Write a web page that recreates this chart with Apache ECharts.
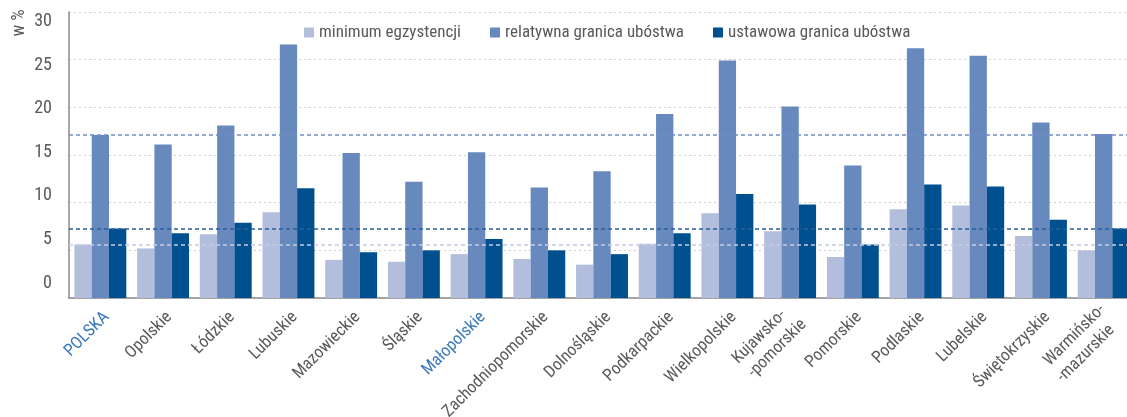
<!DOCTYPE html>
<html>
<head>
<meta charset="utf-8">
<script src="https://cdn.jsdelivr.net/npm/echarts@6/dist/echarts.min.js"></script>
<style>
  html, body { margin: 0; padding: 0; background: #fff; }
  #wykres { width: 1127px; height: 417px; }
</style>
</head>
<body>
<div id="wykres"></div>
<script>
// dane
var wojewodztwa = ['POLSKA', 'Opolskie', 'Łódzkie', 'Lubuskie', 'Mazowieckie', 'Śląskie', 'Małopolskie',
  'Zachodniopomorskie', 'Dolnośląskie', 'Podkarpackie', 'Wielkopolskie', 'Kujawsko-  \n-pomorskie',
  'Pomorskie', 'Podlaskie', 'Lubelskie', 'Świętokrzyskie', 'Warmińsko-\n-mazurskie  '];
var wyroznione = ['POLSKA', 'Małopolskie'];

var minimumEgzystencji = [5.6, 5.2, 6.7, 9.0, 4.0, 3.8, 4.6, 4.1, 3.5, 5.7, 8.9, 7.0, 4.3, 9.3, 9.7, 6.5, 5.0];
var relatywnaGranica = [17.1, 16.1, 18.1, 26.6, 15.2, 12.2, 15.3, 11.6, 13.3, 19.3, 24.9, 20.1, 13.9, 26.2, 25.4, 18.4, 17.2];
var ustawowaGranica = [7.3, 6.8, 7.9, 11.5, 4.8, 5.0, 6.2, 5.0, 4.6, 6.8, 10.9, 9.8, 5.6, 11.9, 11.7, 8.2, 7.3];

// podpisy osi Y (w oryginale lekko rozjechane względem linii siatki)
var podpisyY = [0, 5, 10, 15, 20, 25, 30];

var nazwySerii = ['minimum egzystencji', 'relatywna granica ubóstwa', 'ustawowa granica ubóstwa'];
var kolory = ['#b3bedd', '#6789bd', '#00508f'];
var koloryLinii = ['#c5cde4', '#6f8fc2', '#2a5f9c'];

var czcionka = '"Roboto Condensed", "DejaVu Sans Condensed", sans-serif';

var myChart = echarts.init(document.getElementById('wykres'));

var kategorie = wojewodztwa.map(function (w) {
  return {
    value: w,
    textStyle: { color: wyroznione.indexOf(w.trim()) >= 0 ? '#3b78b9' : '#595959' }
  };
});

var dane = [minimumEgzystencji, relatywnaGranica, ustawowaGranica];
var serie = dane.map(function (d, i) {
  return {
    name: nazwySerii[i],
    type: 'bar',
    data: d,
    yAxisIndex: 0,
    barWidth: 17.3,
    barGap: '0%',
    itemStyle: { color: kolory[i] },
    markLine: {
      symbol: 'none',
      silent: true,
      label: { show: false },
      lineStyle: { color: koloryLinii[i], type: [4, 3], width: 1.6 },
      data: [{ yAxis: d[0] }]
    },
    z: 2
  };
});

var option = {
  animation: false,
  textStyle: { fontFamily: czcionka },
  legend: {
    left: 299,
    top: 19,
    itemWidth: 10,
    itemHeight: 10,
    itemGap: 29,
    icon: 'rect',
    textStyle: { color: '#595959', fontSize: 17, fontFamily: czcionka },
    data: nazwySerii
  },
  grid: {
    left: 69,
    top: 12,
    width: 1066,
    height: 286,
    containLabel: false,
    outerBoundsMode: 'none'
  },
  xAxis: {
    type: 'category',
    data: kategorie,
    axisLine: { lineStyle: { color: '#8a8a8a', width: 1.5 } },
    axisTick: { length: 7, lineStyle: { color: '#8a8a8a', width: 1.5 } },
    axisLabel: {
      rotate: 45,
      interval: 0,
      margin: 23,
      padding: [0, -9, 0, 0],
      fontSize: 17,
      lineHeight: 21,
      fontFamily: czcionka
    }
  },
  yAxis: [{
    type: 'value',
    min: 0,
    max: 30,
    interval: 5,
    axisLine: { show: true, lineStyle: { color: '#8a8a8a', width: 1.5 } },
    axisTick: { show: false },
    axisLabel: { show: false },
    splitLine: { lineStyle: { color: '#cfcfcf', type: [2, 3], width: 1 } }
  }, {
    // tylko podpisy, w miejscach jak na oryginale
    type: 'value',
    position: 'left',
    min: -1.72,
    max: 31.11,
    axisLine: { show: false },
    axisTick: { show: false },
    splitLine: { show: false },
    axisLabel: {
      customValues: podpisyY,
      color: '#595959',
      fontSize: 18,
      margin: 17,
      fontFamily: czcionka
    }
  }],
  graphic: [{
    type: 'text',
    x: 19,
    y: 23,
    rotation: Math.PI / 2,
    style: {
      text: 'w %',
      fill: '#595959',
      font: '18px ' + czcionka,
      align: 'center',
      verticalAlign: 'middle'
    }
  }],
  series: serie
};

myChart.setOption(option);
</script>
</body>
</html>
